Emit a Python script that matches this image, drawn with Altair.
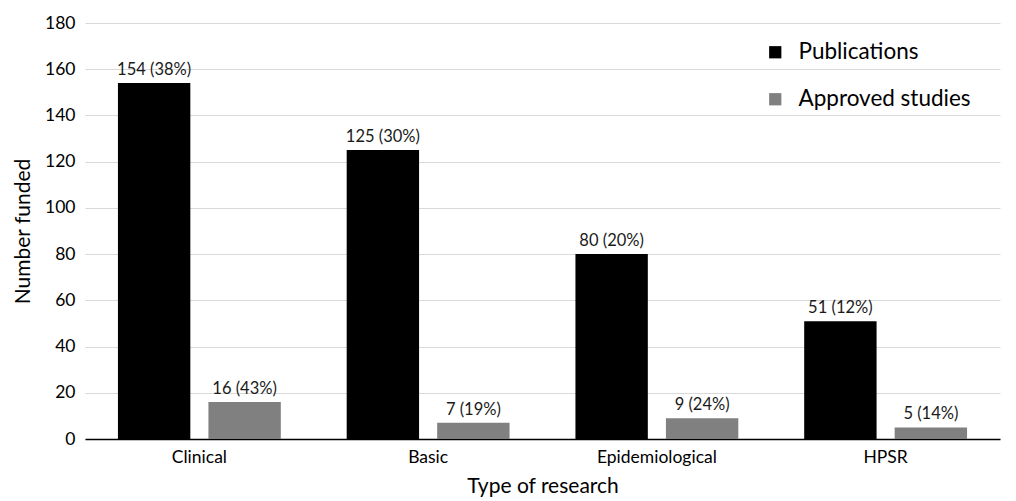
import altair as alt
import pandas as pd

categories = ["Clinical", "Basic", "Epidemiological", "HPSR"]
series = ["Publications", "Approved studies"]
publications = [154, 125, 80, 51]
publications_pct = [38, 30, 20, 12]
approved = [16, 7, 9, 5]
approved_pct = [43, 19, 24, 14]
colors = ["#000000", "#808080"]

rows = []
for i, c in enumerate(categories):
    rows.append({"cat": c, "series": series[0], "value": publications[i],
                 "label": f"{publications[i]} ({publications_pct[i]}%)"})
    rows.append({"cat": c, "series": series[1], "value": approved[i],
                 "label": f"{approved[i]} ({approved_pct[i]}%)"})
df = pd.DataFrame(rows)

FONT = "Lato"

x = alt.X("cat:N", sort=categories, title="Type of research",
          scale=alt.Scale(paddingInner=0.288, paddingOuter=0.144),
          axis=alt.Axis(labelAngle=0, labelFontSize=17.5, titleFontSize=21,
                        labelFont=FONT, titleFont=FONT, labelColor="#000000",
                        titleColor="#000000", titleFontWeight="normal",
                        ticks=False, domainColor="#000000", domainWidth=1.5,
                        labelPadding=9, titlePadding=10))
xo = alt.XOffset("series:N", sort=series,
                 scale=alt.Scale(paddingInner=0.2, paddingOuter=0))
y = alt.Y("value:Q", title="Number funded",
          scale=alt.Scale(domain=[0, 180], nice=False),
          axis=alt.Axis(values=list(range(0, 181, 20)), labelFontSize=17.5,
                        titleFontSize=21, labelFont=FONT, titleFont=FONT,
                        labelColor="#000000", titleColor="#000000",
                        titleFontWeight="normal", ticks=False, domain=False,
                        gridColor="#d9d9d9", gridWidth=1.2, labelPadding=10,
                        titlePadding=11))

bars = alt.Chart(df).mark_bar().encode(
    x=x, xOffset=xo, y=y,
    color=alt.Color("series:N", sort=series, title=None,
                    scale=alt.Scale(domain=series, range=colors),
                    legend=alt.Legend(orient="none", legendX=679, legendY=18,
                                      symbolType="square", symbolSize=150,
                                      symbolStrokeWidth=0, labelFontSize=22.5,
                                      labelFont=FONT, labelColor="#000000",
                                      rowPadding=24, symbolOffset=0,
                                      labelOffset=12, labelLimit=400)),
)

text = alt.Chart(df).mark_text(baseline="bottom", dy=-5, fontSize=16.5,
                               font=FONT, color="#1a1a1a").encode(
    x=alt.X("cat:N", sort=categories), xOffset=xo, y="value:Q",
    text="label:N",
)

chart = (bars + text).properties(
    width=915, height=416,
    autosize=alt.AutoSizeParams(type="none"),
    padding={"left": 77, "top": 15, "right": 8, "bottom": 60},
).configure_view(stroke=None)

chart.save("out.html", embed_options={"renderer": "svg", "actions": False})
